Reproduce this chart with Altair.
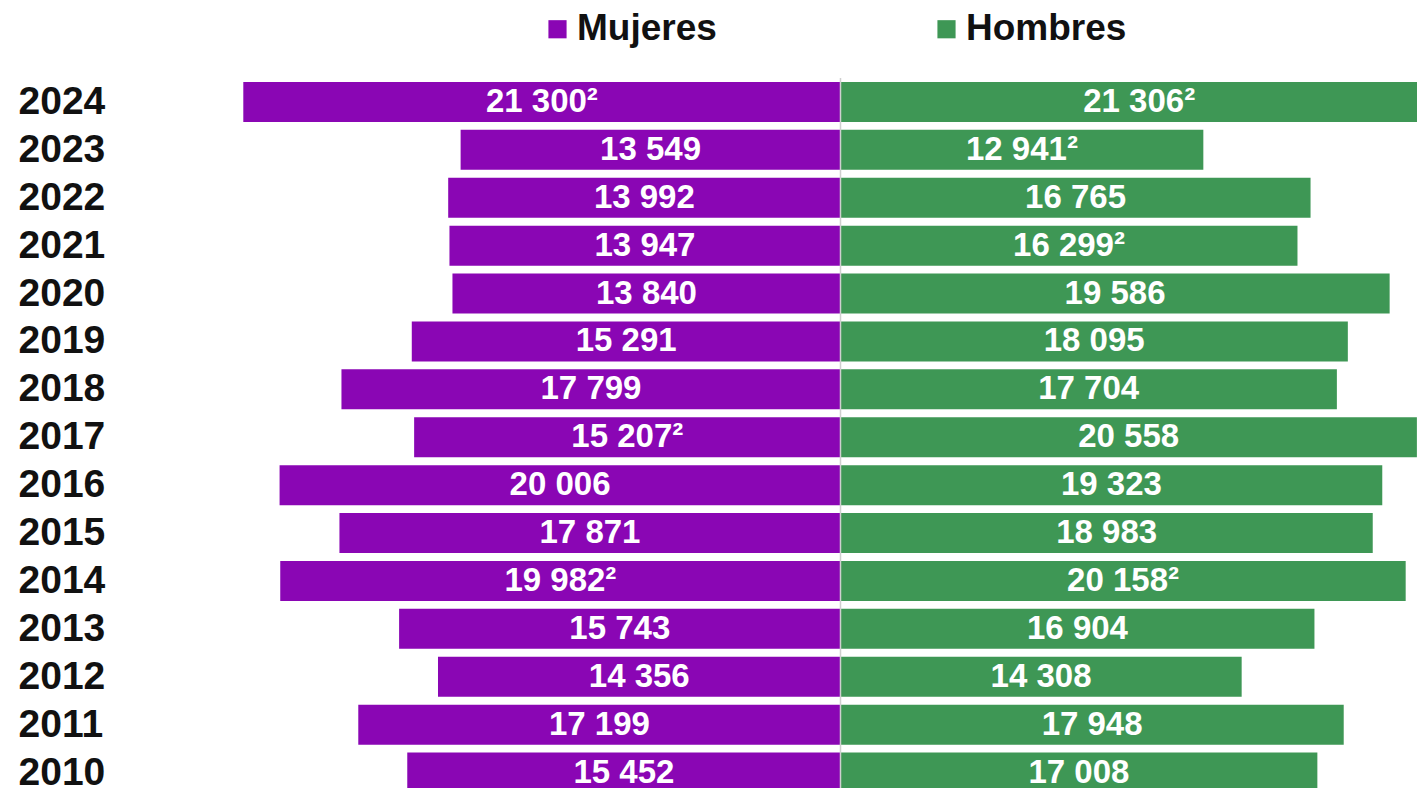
import altair as alt
import pandas as pd

years = ["2024", "2023", "2022", "2021", "2020", "2019", "2018", "2017",
         "2016", "2015", "2014", "2013", "2012", "2011", "2010"]
mujeres = [21300, 13549, 13992, 13947, 13840, 15291, 17799, 15207,
           20006, 17871, 19982, 15743, 14356, 17199, 15452]
mujeres_labels = ["21 300²", "13 549", "13 992", "13 947", "13 840", "15 291", "17 799", "15 207²",
                  "20 006", "17 871", "19 982²", "15 743", "14 356", "17 199", "15 452"]
hombres = [21306, 12941, 16765, 16299, 19586, 18095, 17704, 20558,
           19323, 18983, 20158, 16904, 14308, 17948, 17008]
hombres_labels = ["21 306²", "12 941²", "16 765", "16 299²", "19 586", "18 095", "17 704", "20 558",
                  "19 323", "18 983", "20 158²", "16 904", "14 308", "17 948", "17 008"]
series = ["Mujeres", "Hombres"]
colors = ["#8A06B4", "#3E9755"]

rows = []
for y, m, ml, h, hl in zip(years, mujeres, mujeres_labels, hombres, hombres_labels):
    rows.append({"year": y, "sexo": "Mujeres", "value": m, "signed": -m, "mid": -m / 2, "label": ml})
    rows.append({"year": y, "sexo": "Hombres", "value": h, "signed": h, "mid": h / 2, "label": hl})
df = pd.DataFrame(rows)

# layout constants (pixels)
PLOT_W = 1287
PLOT_H = 710
BAND_RANGE = 718.5
ZERO_PX = 710.5
PX_PER_UNIT = 597.2 / 21300
XMIN = -ZERO_PX / PX_PER_UNIT
XMAX = (PLOT_W - ZERO_PX) / PX_PER_UNIT

FONT = "Liberation Sans"

xscale = alt.Scale(domain=[XMIN, XMAX], nice=False, zero=False)
yenc = alt.Y(
    "year:N",
    sort=years,
    title=None,
    scale=alt.Scale(paddingInner=0.165, paddingOuter=0.0825, range=[0, BAND_RANGE]),
    axis=alt.Axis(
        ticks=False, domain=False, grid=False,
        labelAlign="left", labelBaseline="middle", labelPadding=112,
        labelFont=FONT, labelFontSize=39, labelFontWeight="bold", labelColor="#111111",
    ),
)

bars = alt.Chart(df).mark_bar(clip=True).encode(
    x=alt.X("signed:Q", scale=xscale, axis=None),
    y=yenc,
    color=alt.Color(
        "sexo:N",
        scale=alt.Scale(domain=series, range=colors),
        sort=series,
        legend=alt.Legend(
            title=None, orient="none", direction="horizontal",
            legendX=409, legendY=-67.5, padding=0,
            symbolType="square", symbolSize=330, symbolStrokeWidth=0,
            labelFont=FONT, labelFontSize=37, labelFontWeight="bold", labelColor="#111111",
            labelOffset=1, columnPadding=211, labelLimit=400,
        ),
    ),
)

text = alt.Chart(df).mark_text(
    font=FONT, fontSize=33, fontWeight="bold", color="white",
    align="center", baseline="middle", clip=True,
).encode(
    x=alt.X("mid:Q", scale=xscale, axis=None),
    y=yenc,
    text="label:N",
)

rule = alt.Chart(pd.DataFrame({"zero": [0]})).mark_rule(
    color="#cfcfcf", strokeWidth=1.5
).encode(x=alt.X("zero:Q", scale=xscale, axis=None))

chart = alt.layer(bars, rule, text).properties(
    width=PLOT_W, height=PLOT_H,
    autosize=alt.AutoSizeParams(type="none"),
    padding={"left": 122, "top": 70, "right": 0, "bottom": 0},
).configure(background="white", view=alt.ViewConfig(stroke=None))

chart.save("out.html", embed_options={"renderer": "svg", "actions": False})
